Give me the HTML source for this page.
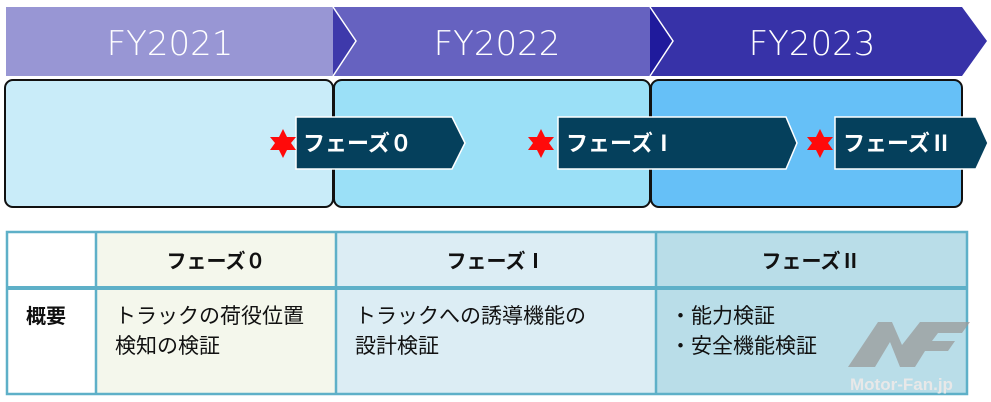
<!DOCTYPE html>
<html><head><meta charset="utf-8"><style>
body{margin:0;width:991px;height:402px;background:#fff;overflow:hidden;position:relative;font-family:"Liberation Sans","Noto Sans CJK JP",sans-serif}
svg{position:absolute;left:0;top:0}
</style></head><body>
<svg width="991" height="402" viewBox="0 0 991 402" font-family="Liberation Sans, Noto Sans CJK JP, sans-serif">
<polygon points="6,7 333,7 333,76 6,76" fill="#9896d4"/>
<polygon points="333,7 650,7 650,76 333,76 356,41" fill="#6662c0"/>
<polygon points="333,7 356,41 333,76" fill="#3e39ab"/>
<polygon points="650,7 962,7 987,41 962,76 650,76 673,41" fill="#3732a8"/>
<polygon points="650,7 673,41 650,76" fill="#1f1a9c"/>
<polyline points="333,7 356,41 333,76" fill="none" stroke="#fff" stroke-width="1.5"/>
<polyline points="650,7 673,41 650,76" fill="none" stroke="#fff" stroke-width="1.5"/>
<g font-family="DejaVu Sans, sans-serif" font-size="34" fill="#fff" text-anchor="middle" font-weight="300">
<text x="170" y="55">FY2021</text>
<text x="497" y="55">FY2022</text>
<text x="812" y="55">FY2023</text>
</g>
<rect x="5" y="80" width="328" height="127" rx="8" fill="#c9ecf9" stroke="#111" stroke-width="2"/>
<rect x="334" y="80" width="316" height="127" rx="8" fill="#9be0f7" stroke="#111" stroke-width="2"/>
<rect x="651" y="80" width="311" height="127" rx="8" fill="#66c0f7" stroke="#111" stroke-width="2"/>
<g stroke="#fff" stroke-width="1.5" fill="#05405c">
<polygon points="296,117 452,117 465,143 452,169 296,169"/>
<polygon points="558,117 786,117 797,143 786,169 558,169"/>
<polygon points="835,117 976,117 988,143 976,169 835,169"/>
</g>
<g fill="#fff" font-size="22" font-weight="bold">
<text x="303" y="151">フェーズ０</text>
<text x="566" y="151">フェーズⅠ</text>
<text x="843" y="151">フェーズⅡ</text>
</g>
<g fill="#ff0a0a">
<polygon points="283,129 287,137 296,137 291,143 296,150 287,150 283,158 279,150 270,150 275,143 270,137 279,137"/>
<polygon points="541,129 545,137 554,137 549,143 554,150 545,150 541,158 537,150 528,150 533,143 528,137 537,137"/>
<polygon points="820,129 824,137 833,137 828,143 833,150 824,150 820,158 816,150 807,150 812,143 807,137 816,137"/>
</g>
<rect x="96" y="232" width="240" height="162" fill="#f4f7ec"/>
<rect x="336" y="232" width="320" height="162" fill="#dcedf4"/>
<rect x="656" y="232" width="311" height="162" fill="#b9dde8"/>
<g stroke="#5eb0c8" fill="none">
<rect x="7" y="232" width="960" height="162" stroke-width="2.5"/>
<line x1="7" y1="288" x2="967" y2="288" stroke-width="4"/>
<line x1="96" y1="232" x2="96" y2="394" stroke-width="2.5"/>
<line x1="336" y1="232" x2="336" y2="394" stroke-width="2.5"/>
<line x1="656" y1="232" x2="656" y2="394" stroke-width="2.5"/>
</g>
<g font-size="20" font-weight="bold" fill="#111" text-anchor="middle">
<text x="216" y="268">フェーズ０</text>
<text x="496" y="268">フェーズⅠ</text>
<text x="811" y="268">フェーズⅡ</text>
<text x="46" y="323">概要</text>
</g>
<g font-size="21" fill="#111">
<text x="115" y="323">トラックの荷役位置</text>
<text x="115" y="353">検知の検証</text>
<text x="355" y="323">トラックへの誘導機能の</text>
<text x="355" y="353">設計検証</text>
<text x="670" y="323">・能力検証</text>
<text x="670" y="353">・安全機能検証</text>
</g>
<polygon points="848,367 878,322 892,322 902,345 920,322 970,322 962,333 938,333 932,341 955,341 948,351 925,351 915,367 900,367 890,342 875,367" fill="#9a9a9a" opacity="0.75"/>
<text x="850" y="390" font-size="17" font-weight="bold" fill="#e8e8e8">Motor-Fan.jp</text>
</svg>
</body></html>
